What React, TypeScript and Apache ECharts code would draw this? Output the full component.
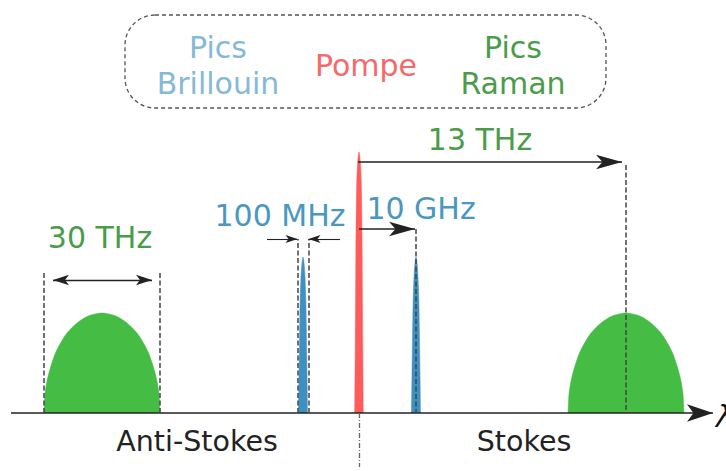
import React, { useEffect, useRef } from "react";
import * as echarts from "echarts";

// Diagram units: x = offset from the pump line, y = height above the frequency axis
const ramanAntiStokes: number[][] = [
  [-315, 0], [-314, 19], [-312, 32], [-309, 44], [-304, 59], [-299, 69], [-292, 80],
  [-282, 90], [-272, 96.5], [-264, 99], [-257, 100], [-250, 99], [-242, 96.5], [-232, 90],
  [-222, 80], [-215, 69], [-210, 59], [-205, 44], [-202, 32], [-200, 19], [-199, 0],
];
const ramanStokes: number[][] = [
  [209, 0], [210, 19], [212, 32], [215, 44], [220, 59], [225, 69], [232, 80],
  [242, 90], [252, 96.5], [260, 99], [267, 100], [274, 99], [282, 96.5], [292, 90],
  [302, 80], [309, 69], [314, 59], [319, 44], [322, 32], [324, 19], [325, 0],
];
const pump: number[][] = [
  [-4.3, 0], [-3.8, 60], [-3.4, 120], [-3, 180], [-2.4, 225], [-1.4, 250], [0, 261],
  [1.4, 250], [2.4, 225], [3, 180], [3.4, 120], [3.8, 60], [4.3, 0],
];
const brillouinAntiStokes: number[][] = [
  [-60.5, 0], [-60, 40], [-59.4, 80], [-58.8, 115], [-57.8, 140], [-56.8, 152], [-56, 156],
  [-55.2, 152], [-54.2, 140], [-53.2, 115], [-52.6, 80], [-52, 40], [-51.5, 0],
];
const brillouinStokes: number[][] = [
  [52.5, 0], [53, 40], [53.6, 80], [54.2, 115], [55.2, 140], [56.2, 152], [57, 156],
  [57.8, 152], [58.8, 140], [59.8, 115], [60.4, 80], [61, 40], [61.5, 0],
];

// annotation coordinates (diagram units)
const axisSegment: number[][] = [[-348, 0], [354, 0]];
const ramanWidthGuides: number[][][] = [
  [[-315.5, 0], [-315.5, 141]],
  [[-199, 0], [-199, 141]],
];
const ramanWidthArrow: number[][] = [[-306, 133], [-207, 133]];
const brillouinWidthGuides: number[][][] = [
  [[-61.3, 0], [-61.3, 174]],
  [[-50.7, 0], [-50.7, 174]],
];
const brillouinWidthArrows: number[][][] = [
  [[-92, 174], [-61.5, 174]],
  [[-19, 174], [-50.5, 174]],
];
const brillouinShiftArrow: number[][] = [[0, 184], [56, 184]];
const brillouinShiftGuide: number[][] = [[57, 184], [57, 0]];
const ramanShiftArrow: number[][] = [[-1, 251], [263, 251]];
const ramanShiftGuide: number[][] = [[267, 248], [267, 0]];
const centerDivider: number[][] = [[0, 0], [0, -54]];

const legendLabels = ["Pics\nBrillouin", "Pompe", "Pics\nRaman"];
const shiftLabels = ["30 THz", "100 MHz", "10 GHz", "13 THz"];
const sideLabels = ["Anti-Stokes", "Stokes"];
const axisName = "λ";

const FONT = "DejaVu Sans";
const GREEN_TXT = "#4a9c4a";
const BLUE_TXT = "#4a98c1";

function seg(p: number[][]) {
  return [{ coord: p[0] }, { coord: p[1] }];
}

function peak(name: string, data: number[][], color: string) {
  return {
    name,
    type: "line",
    data,
    symbol: "none",
    smooth: 0.3,
    lineStyle: { width: 0.5, color },
    areaStyle: { color, opacity: 1 },
    itemStyle: { color },
    silent: true,
    z: 2,
  };
}

function annot(name: string, lines: number[][][], symbol: any, symbolSize: any, lineStyle: any) {
  return {
    name,
    type: "line",
    data: [[0, 0]],
    symbol: "none",
    lineStyle: { width: 0 },
    silent: true,
    z: 5,
    markLine: {
      silent: true,
      animation: false,
      symbol,
      symbolSize,
      label: { show: false },
      emphasis: { disabled: true },
      lineStyle,
      data: lines.map(seg),
    },
  };
}

export default function App() {
  const ref = useRef<HTMLDivElement>(null);
  useEffect(() => {
    if (!ref.current) return;
    const chart = echarts.init(ref.current, null, { renderer: "svg" });
    const dashed = { color: "#444", width: 1.5, type: [5, 2.5] };
    chart.setOption({
      animation: false,
      backgroundColor: "#ffffff",
      grid: { left: 0, right: 0, top: 0, bottom: 0, containLabel: false },
      xAxis: {
        type: "value",
        min: -359,
        max: 367,
        show: false,
      },
      yAxis: {
        type: "value",
        min: -58,
        max: 413,
        show: false,
      },
      series: [
        peak("Raman anti-Stokes", ramanAntiStokes, "#45bd45"),
        peak("Raman Stokes", ramanStokes, "#45bd45"),
        peak("Brillouin anti-Stokes", brillouinAntiStokes, "#3f90c2"),
        peak("Brillouin Stokes", brillouinStokes, "#3f90c2"),
        peak("Pompe", pump, "#ff5b5b"),
        annot("axis", [axisSegment], ["none", "arrow"], [13, 26], { color: "#222", width: 1.6, type: "solid" }),
        annot("guides", [...ramanWidthGuides, ...brillouinWidthGuides, brillouinShiftGuide, ramanShiftGuide], "none", 0, dashed),
        annot("raman width", [ramanWidthArrow], ["arrow", "arrow"], [8, 16], { color: "#222", width: 1.3, type: "solid" }),
        annot("brillouin width", brillouinWidthArrows, ["none", "arrow"], [6, 12], { color: "#222", width: 1.1, type: "solid" }),
        annot("shifts", [brillouinShiftArrow, ramanShiftArrow], ["none", "arrow"], [11, 26], { color: "#222", width: 1.6, type: "solid" }),
        annot("divider", [centerDivider], "none", 0, { color: "#666", width: 1.3, type: [5, 2, 1, 2] }),
      ],
      graphic: [
        {
          type: "rect",
          shape: { x: 125, y: 15, width: 481, height: 93, r: 30 },
          style: { fill: "none", stroke: "#555", lineWidth: 1.3, lineDash: [4, 3] },
          z: 10,
        },
        {
          type: "text",
          x: 218,
          y: 65,
          style: { text: legendLabels[0], fill: "#86b9d8", font: `30px "${FONT}"`, align: "center", verticalAlign: "middle", lineHeight: 36 },
          z: 10,
        },
        {
          type: "text",
          x: 366,
          y: 65,
          style: { text: legendLabels[1], fill: "#f46a6a", font: `30px "${FONT}"`, align: "center", verticalAlign: "middle" },
          z: 10,
        },
        {
          type: "text",
          x: 513,
          y: 65,
          style: { text: legendLabels[2], fill: GREEN_TXT, font: `30px "${FONT}"`, align: "center", verticalAlign: "middle", lineHeight: 36 },
          z: 10,
        },
        {
          type: "text", x: 100, y: 237,
          style: { text: shiftLabels[0], fill: GREEN_TXT, font: `30px "${FONT}"`, align: "center", verticalAlign: "middle" }, z: 10,
        },
        {
          type: "text", x: 280, y: 215,
          style: { text: shiftLabels[1], fill: BLUE_TXT, font: `30px "${FONT}"`, align: "center", verticalAlign: "middle" }, z: 10,
        },
        {
          type: "text", x: 421, y: 208,
          style: { text: shiftLabels[2], fill: BLUE_TXT, font: `30px "${FONT}"`, align: "center", verticalAlign: "middle" }, z: 10,
        },
        {
          type: "text", x: 480, y: 139,
          style: { text: shiftLabels[3], fill: GREEN_TXT, font: `30px "${FONT}"`, align: "center", verticalAlign: "middle" }, z: 10,
        },
        {
          type: "text", x: 197, y: 441,
          style: { text: sideLabels[0], fill: "#222", font: `28.5px "${FONT}"`, align: "center", verticalAlign: "middle" }, z: 10,
        },
        {
          type: "text", x: 524, y: 441,
          style: { text: sideLabels[1], fill: "#222", font: `28.5px "${FONT}"`, align: "center", verticalAlign: "middle" }, z: 10,
        },
        {
          type: "text", x: 716, y: 416,
          style: { text: axisName, fill: "#111", font: `italic 30px "${FONT}"`, align: "left", verticalAlign: "middle" }, z: 10,
        },
      ],
    });
    return () => chart.dispose();
  }, []);
  return (
    <div
      ref={ref}
      style={{ position: "fixed", left: 0, top: 0, width: 726, height: 471, background: "#fff" }}
    />
  );
}
